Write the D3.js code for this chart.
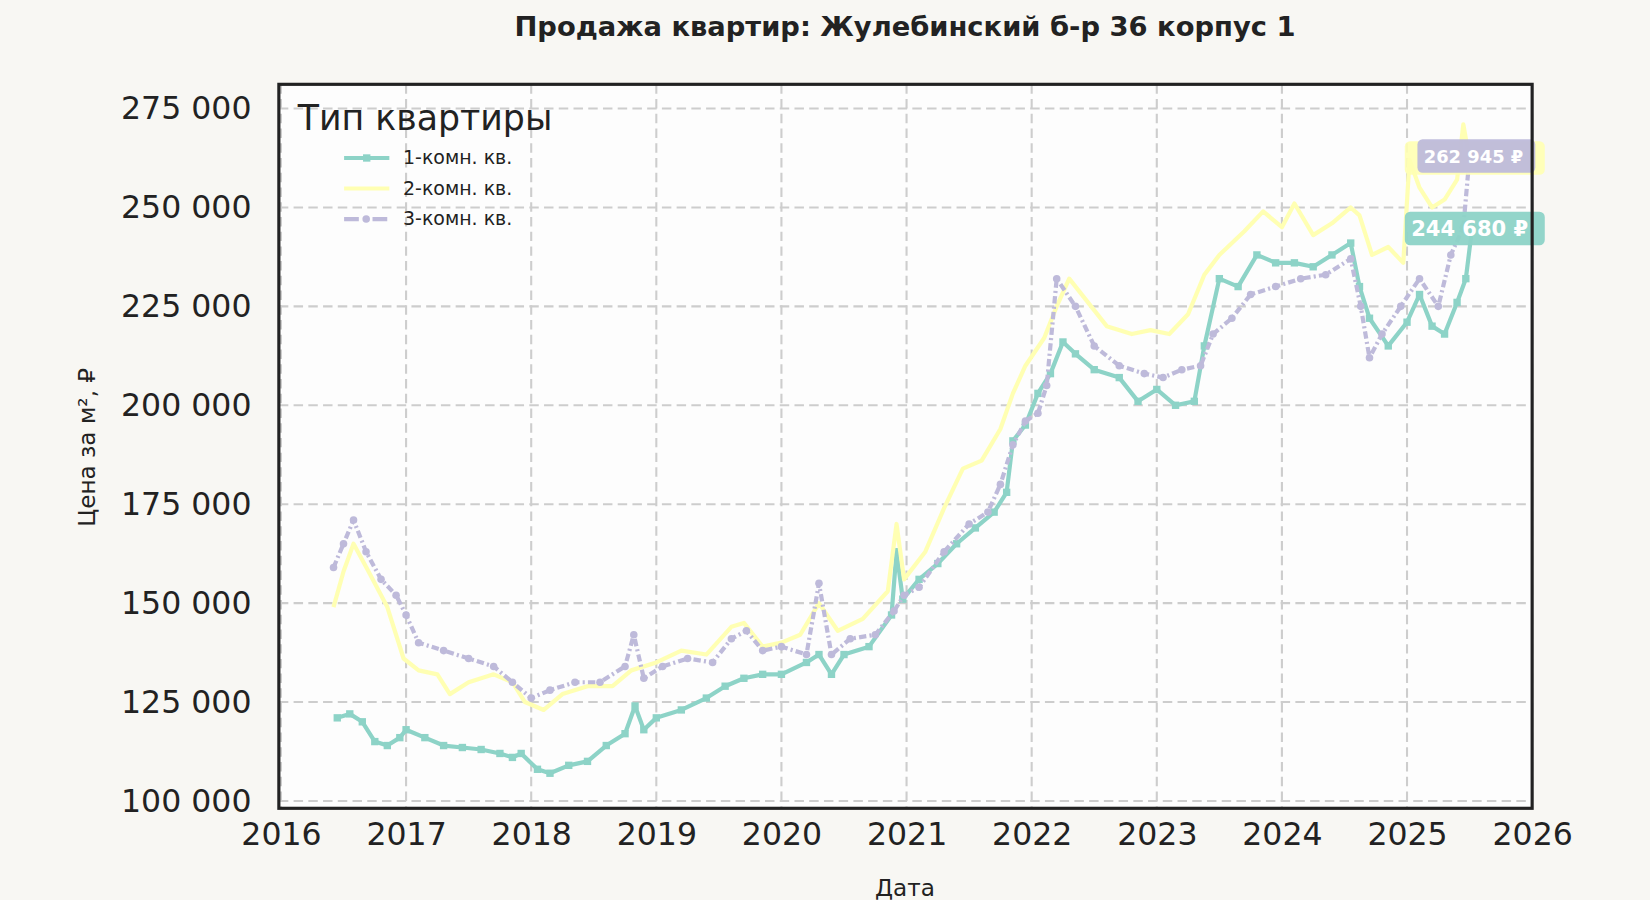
<!DOCTYPE html>
<html><head><meta charset="utf-8">
<script src="https://cdn.jsdelivr.net/npm/d3@7"></script>
<style>body{margin:0;background:#f8f7f3;font-family:"DejaVu Sans",sans-serif;}</style>
</head><body><div id="chart"></div>
<script>
const years1 = [2016.45,2016.55,2016.65,2016.75,2016.85,2016.95,2017.0,2017.15,2017.3,2017.45,2017.6,2017.75,2017.85,2017.92,2018.05,2018.15,2018.3,2018.45,2018.6,2018.75,2018.83,2018.9,2019.0,2019.2,2019.4,2019.55,2019.7,2019.85,2020.0,2020.2,2020.3,2020.4,2020.5,2020.7,2020.88,2020.92,2020.97,2021.1,2021.25,2021.4,2021.55,2021.7,2021.8,2021.85,2021.95,2022.05,2022.15,2022.25,2022.35,2022.5,2022.7,2022.85,2023.0,2023.15,2023.3,2023.38,2023.5,2023.65,2023.8,2023.95,2024.1,2024.25,2024.4,2024.55,2024.62,2024.7,2024.85,2025.0,2025.1,2025.2,2025.3,2025.4,2025.47,2025.52];
const oneRoom = [121000,122000,120000,115000,114000,116000,118000,116000,114000,113500,113000,112000,111000,112000,108000,107000,109000,110000,114000,117000,124000,118000,121000,123000,126000,129000,131000,132000,132000,135000,137000,132000,137000,139000,147000,163000,151000,156000,160000,165000,169000,173000,178000,191000,195000,203000,208000,216000,213000,209000,207000,201000,204000,200000,201000,215000,232000,230000,238000,236000,236000,235000,238000,241000,230000,222000,215000,221000,228000,220000,218000,226000,232000,244680];
const years2 = [2016.42,2016.5,2016.58,2016.7,2016.85,2016.98,2017.1,2017.25,2017.35,2017.5,2017.7,2017.85,2017.95,2018.1,2018.25,2018.45,2018.65,2018.8,2019.0,2019.2,2019.4,2019.6,2019.7,2019.85,2020.0,2020.15,2020.3,2020.45,2020.65,2020.85,2020.92,2020.98,2021.15,2021.3,2021.45,2021.6,2021.75,2021.85,2021.95,2022.1,2022.2,2022.3,2022.45,2022.6,2022.8,2022.95,2023.1,2023.25,2023.38,2023.5,2023.7,2023.85,2024.0,2024.1,2024.25,2024.4,2024.55,2024.62,2024.72,2024.85,2024.97,2025.02,2025.1,2025.2,2025.3,2025.4,2025.45,2025.5];
const twoRoom = [149000,158000,165000,158000,149000,136000,133000,132000,127000,130000,132000,130000,125000,123000,127000,129000,129000,133000,135000,138000,137000,144000,145000,139000,140000,142000,150000,143000,146000,153000,170000,156000,163000,174000,184000,186000,194000,203000,210000,217000,225000,232000,226000,220000,218000,219000,218000,223000,233000,238000,244000,249000,245000,251000,243000,246000,250000,248000,238000,240000,236000,262000,255000,250000,252000,257000,271000,262000];
const years3 = [2016.42,2016.5,2016.58,2016.68,2016.8,2016.92,2017.0,2017.1,2017.3,2017.5,2017.7,2017.85,2018.0,2018.15,2018.35,2018.55,2018.75,2018.82,2018.9,2019.05,2019.25,2019.45,2019.6,2019.72,2019.85,2020.0,2020.2,2020.3,2020.4,2020.55,2020.75,2020.9,2020.98,2021.1,2021.3,2021.5,2021.65,2021.75,2021.85,2021.95,2022.05,2022.12,2022.2,2022.35,2022.5,2022.7,2022.9,2023.05,2023.2,2023.35,2023.45,2023.6,2023.75,2023.95,2024.15,2024.35,2024.55,2024.63,2024.7,2024.8,2024.95,2025.1,2025.25,2025.35,2025.45,2025.5];
const threeRoom = [159000,165000,171000,163000,156000,152000,147000,140000,138000,136000,134000,130000,126000,128000,130000,130000,134000,142000,131000,134000,136000,135000,141000,143000,138000,139000,137000,155000,137000,141000,142000,148000,152000,154000,163000,170000,173000,180000,190000,196000,198000,205000,232000,225000,215000,210000,208000,207000,209000,210000,218000,222000,228000,230000,232000,233000,237000,225000,212000,218000,225000,232000,225000,238000,245000,262945];
const seriesNames = ["1-комн. кв.","2-комн. кв.","3-комн. кв."];
const colors = ["#8dd3c7","#ffffb3","#bebada"];
const yTicks = [100000,125000,150000,175000,200000,225000,250000,275000];
const xTicks = [2016,2017,2018,2019,2020,2021,2022,2023,2024,2025,2026];

// layout measured on a 1568x855 copy of the reference, scaled up by viewBox
const VW = 1568, VH = 855;
const m = {left: 265, right: 1456, top: 80, bottom: 768};
const svg = d3.select("#chart").append("svg").attr("width", 1650).attr("height", 900)
    .attr("viewBox", `0 0 ${VW} ${VH}`);

const x = d3.scaleLinear().domain([2016, 2026]).range([267, 1456]);
const y = d3.scaleLinear().domain([100000, 275000]).range([761, 103]);

svg.append("rect").attr("x", m.left).attr("y", m.top)
    .attr("width", m.right - m.left).attr("height", m.bottom - m.top).attr("fill", "#fdfdfd");

const grid = svg.append("g").attr("stroke", "#cdcdcd").attr("stroke-width", 2).attr("stroke-dasharray", "9,5");
grid.selectAll(".gx").data(xTicks).enter().append("line")
    .attr("x1", d => x(d)).attr("x2", d => x(d)).attr("y1", m.top).attr("y2", m.bottom);
grid.selectAll(".gy").data(yTicks).enter().append("line")
    .attr("y1", d => y(d)).attr("y2", d => y(d)).attr("x1", m.left).attr("x2", m.right);

const fmt = v => d3.format(",")(v).replace(/,/g, " ");

const xAxis = svg.append("g").attr("transform", `translate(0,${m.bottom})`)
    .call(d3.axisBottom(x).tickValues(xTicks).tickFormat(d3.format("d")).tickSize(0).tickPadding(14));
const yAxis = svg.append("g").attr("transform", `translate(${m.left},0)`)
    .call(d3.axisLeft(y).tickValues(yTicks).tickFormat(fmt).tickSize(0).tickPadding(26));
[xAxis, yAxis].forEach(a => {
    a.select(".domain").remove();
    a.selectAll("text").attr("font-size", 30).attr("fill", "#222").attr("font-family", "DejaVu Sans");
});

svg.append("defs").append("clipPath").attr("id", "clip")
    .append("rect").attr("x", m.left).attr("y", m.top).attr("width", m.right - m.left + 14).attr("height", m.bottom - m.top);

const data = [
    years1.map((t, i) => [t, oneRoom[i]]),
    years2.map((t, i) => [t, twoRoom[i]]),
    years3.map((t, i) => [t, threeRoom[i]])
];
const line = d3.line().x(d => x(d[0])).y(d => y(d[1]));
const plot = svg.append("g").attr("clip-path", "url(#clip)");
data.forEach((s, k) => {
    plot.append("path").attr("d", line(s)).attr("fill", "none")
        .attr("stroke", colors[k]).attr("stroke-width", 4).attr("stroke-linejoin", "round")
        .attr("stroke-dasharray", k === 2 ? "7,3,2,3" : null);
    if (k !== 1) {
        plot.selectAll(null).data(s).enter().append(k === 0 ? "rect" : "circle")
            .attr("fill", colors[k])
            .each(function (d) {
                const el = d3.select(this);
                if (k === 0) el.attr("x", x(d[0]) - 3.5).attr("y", y(d[1]) - 3.5).attr("width", 7).attr("height", 7);
                else el.attr("cx", x(d[0])).attr("cy", y(d[1])).attr("r", 3.6);
            });
    }
});

// end-of-line labels (the 2-room box sits hidden behind the 3-room one)
svg.append("rect").attr("x", 1335).attr("y", y(262500) - 16).attr("width", 133).attr("height", 32)
    .attr("rx", 5).attr("fill", colors[1]).attr("opacity", 0.9);
const labels = [
    {k: 2, v: threeRoom[threeRoom.length - 1], yy: y(263000), bx: 1347, bw: 112, fs: 17},
    {k: 0, v: oneRoom[oneRoom.length - 1], yy: y(244680), bx: 1335, bw: 133, fs: 20}
];
labels.forEach(l => {
    svg.append("rect").attr("x", l.bx).attr("y", l.yy - 16).attr("width", l.bw).attr("height", 32)
        .attr("rx", 5).attr("fill", colors[l.k]).attr("opacity", 0.95);
    svg.append("text").attr("x", l.bx + 6).attr("y", l.yy + 7)
        .attr("font-size", l.fs).attr("font-weight", "bold").attr("fill", "#fff")
        .text(fmt(Math.round(l.v)) + " ₽");
});

svg.append("rect").attr("x", m.left).attr("y", m.top)
    .attr("width", m.right - m.left).attr("height", m.bottom - m.top)
    .attr("fill", "none").attr("stroke", "#222").attr("stroke-width", 3);

// legend
const lg = svg.append("g");
lg.append("text").attr("x", 283).attr("y", 123).attr("font-size", 33).attr("fill", "#222").text("Тип квартиры");
seriesNames.forEach((n, i) => {
    const yy = 150 + i * 29;
    lg.append("line").attr("x1", 327).attr("x2", 370).attr("y1", yy).attr("y2", yy)
        .attr("stroke", colors[i]).attr("stroke-width", 4).attr("stroke-dasharray", i === 2 ? "14,5,3,5" : null);
    if (i === 0) lg.append("rect").attr("x", 345).attr("y", yy - 3.5).attr("width", 7).attr("height", 7).attr("fill", colors[0]);
    if (i === 2) lg.append("circle").attr("cx", 348).attr("cy", yy).attr("r", 3.6).attr("fill", colors[2]);
    lg.append("text").attr("x", 383).attr("y", yy + 6).attr("font-size", 18).attr("fill", "#222").text(n);
});

svg.append("text").attr("x", 860).attr("y", 34).attr("text-anchor", "middle")
    .attr("font-size", 26).attr("font-weight", "bold").attr("fill", "#222")
    .text("Продажа квартир: Жулебинский б-р 36 корпус 1");
svg.append("text").attr("x", 860).attr("y", 851).attr("text-anchor", "middle")
    .attr("font-size", 22).attr("fill", "#222").text("Дата");
svg.append("text").attr("transform", "translate(90,425) rotate(-90)").attr("text-anchor", "middle")
    .attr("font-size", 22).attr("fill", "#222").text("Цена за м², ₽");
</script></body></html>
